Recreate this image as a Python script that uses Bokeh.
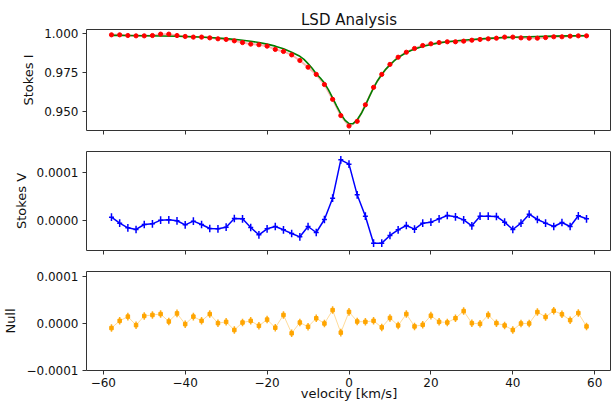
from bokeh.plotting import figure
from bokeh.layouts import column
from bokeh.models import Range1d, FixedTicker, CustomJSTickFormatter
from bokeh.embed import file_html
from bokeh.resources import INLINE

# ---------------- data ----------------
velocity = [-58, -56, -54, -52, -50, -48, -46, -44, -42, -40, -38, -36, -34, -32, -30,
            -28, -26, -24, -22, -20, -18, -16, -14, -12, -10, -8, -6, -4, -2, 0,
            2, 4, 6, 8, 10, 12, 14, 16, 18, 20, 22, 24, 26, 28, 30,
            32, 34, 36, 38, 40, 42, 44, 46, 48, 50, 52, 54, 56, 58]

stokes_I = [0.99895, 0.99895, 0.99853, 0.9983, 0.9983, 0.9985, 0.9994, 0.9994, 0.9985, 0.9979,
            0.9975, 0.9975, 0.9970, 0.9964, 0.9960, 0.9951, 0.9940, 0.9930, 0.9926, 0.9917,
            0.9896, 0.9883, 0.9861, 0.9825, 0.9782, 0.9736, 0.9671, 0.9576, 0.9472, 0.9405,
            0.9435, 0.9541, 0.9653, 0.9736, 0.9800, 0.9846, 0.9878, 0.9902, 0.9921, 0.9932,
            0.9940, 0.9945, 0.9945, 0.9949, 0.9955, 0.9960, 0.9964, 0.9968, 0.9975, 0.9975,
            0.9970, 0.9968, 0.9968, 0.9972, 0.9977, 0.9977, 0.9981, 0.9983, 0.9983]

fit_velocity = [-58, -54, -50, -46, -42, -38, -34, -30, -27, -24, -22, -20, -18, -16, -14,
                -12, -11, -10, -9, -8, -7, -6, -5, -4, -3, -2, -1, 0, 1, 2, 3, 4, 5, 6, 7,
                8, 9, 10, 11, 12, 14, 16, 18, 20, 22, 24, 27, 30, 34, 38, 42, 46, 50, 54, 58]
fit_I = [0.9986, 0.9985, 0.9984, 0.9982, 0.9980, 0.9977, 0.9972, 0.9965, 0.9958, 0.9948,
         0.9940, 0.9930, 0.9917, 0.9900, 0.9878, 0.9852, 0.9832, 0.9805, 0.9775, 0.9740,
         0.9713, 0.9680, 0.9637, 0.9586, 0.9533, 0.9483, 0.9443, 0.9421, 0.9420, 0.9445,
         0.9485, 0.9537, 0.9595, 0.9650, 0.9697, 0.9735, 0.9770, 0.9797, 0.9822, 0.9843,
         0.9876, 0.9898, 0.9915, 0.9928, 0.9938, 0.9945, 0.9953, 0.9960, 0.9967, 0.9972,
         0.9976, 0.9979, 0.9981, 0.9983, 0.9984]

stokes_V = [0.76, -0.49, -1.46, -1.81, -0.77, -0.63, 0.13, 0.20, 0.00, -0.84,
            -0.08, -0.77, -1.60, -1.67, -1.33, 0.48, 0.41, -1.40, -2.92, -1.67,
            -1.19, -1.88, -2.65, -3.34, -1.19, -2.44, 0.27, 4.71, 12.70, 11.80,
            5.41, 0.96, -4.66, -4.66, -3.06, -1.88, -0.98, -1.74, -0.49, -0.28,
            0.41, 1.10, 0.83, 0.20, -1.05, 0.96, 0.96, 0.90, -0.28, -1.81,
            -0.49, 1.38, 0.27, -0.49, -1.19, -0.35, -1.19, 1.04, 0.41]  # x 1e-5

null_N = [-1.04, 0.49, 1.39, -0.42, 1.53, 1.74, 1.94, 0.35, 2.08, -0.21,
          1.39, 0.49, 1.94, 0.00, 0.28, -1.46, 0.14, 0.49, -0.56, 0.76,
          -0.97, 1.74, -2.15, 0.14, -0.76, 1.04, -0.07, 2.78, -2.01, 2.40,
          0.35, 0.28, 0.49, -0.90, 1.11, -0.49, 1.94, -0.69, -0.35, 1.60,
          0.28, 0.14, 1.04, 2.57, 0.00, -0.14, 1.74, 0.00, -0.49, -1.46,
          -0.07, -0.07, 2.36, 1.32, 2.64, 1.88, 0.63, 2.15, -0.69]  # x 1e-5

scale = 1e-5
V_err = 0.8   # x 1e-5
N_err = 0.8   # x 1e-5

x_ticks = [-60, -40, -20, 0, 20, 40, 60]
I_ticks = [0.95, 0.975, 1.0]
V_ticks = [0.0, 0.0001]
N_ticks = [-0.0001, 0.0, 0.0001]

# ---------------- styling helpers ----------------
FONT = "DejaVu Sans"
AX = "#333333"
W = 611
XR = (-64.1, 64.1)


def fmt(digits):
    return CustomJSTickFormatter(code="""
        const s = Math.abs(tick).toFixed(%d);
        return (tick < -1e-12 ? '\\u2212' : '') + s;
    """ % digits)


def make(height, top, bottom, yr, yticks, ydig, ylabel):
    p = figure(width=W, height=height, output_backend="svg", toolbar_location=None,
               x_range=Range1d(*XR), y_range=Range1d(*yr),
               min_border_left=84, min_border_right=0,
               min_border_top=top, min_border_bottom=bottom)
    p.background_fill_color = "white"
    p.border_fill_color = "white"
    p.outline_line_color = AX
    p.outline_line_width = 1
    p.xgrid.visible = False
    p.ygrid.visible = False
    for ax in (p.xaxis[0], p.yaxis[0]):
        ax.axis_line_color = None
        ax.major_tick_out = 4
        ax.major_tick_in = 0
        ax.minor_tick_out = 0
        ax.minor_tick_in = 0
        ax.major_tick_line_color = AX
        ax.major_label_text_font = FONT
        ax.major_label_text_font_size = "12px"
        ax.major_label_text_color = "#111111"
        ax.axis_label_text_font = FONT
        ax.axis_label_text_font_size = "13px"
        ax.axis_label_text_font_style = "normal"
        ax.axis_label_text_color = "#111111"
    p.xaxis.ticker = FixedTicker(ticks=x_ticks)
    p.xaxis.formatter = fmt(0)
    p.yaxis.ticker = FixedTicker(ticks=yticks)
    p.yaxis.formatter = fmt(ydig)
    p.yaxis.axis_label = ylabel
    p.yaxis.major_label_standoff = 4
    p.yaxis.axis_label_standoff = 5
    return p


def hide_x_labels(p):
    # shared x axis: keep tick marks, draw no tick labels
    p.xaxis.major_label_text_color = None
    p.xaxis.major_label_text_alpha = 0
    p.xaxis.major_label_text_font_size = "1px"
    p.xaxis.major_label_standoff = 0


# ---- top panel: Stokes I ----
p1 = make(140, 29, 10, (0.93763, 1.00237), I_ticks, 3, "Stokes I")
hide_x_labels(p1)
p1.title.text = "LSD Analysis"
p1.title.align = "center"
p1.title.text_font = FONT
p1.title.text_font_size = "15px"
p1.title.text_font_style = "normal"
p1.title.text_color = "#111111"
p1.title.standoff = 2
p1.line(velocity, stokes_I, line_color="red", line_alpha=0.3, line_width=2)
p1.line(fit_velocity, fit_I, line_color="green", line_width=1.6)
p1.scatter(velocity, stokes_I, size=4.2, marker="circle", fill_color="red", line_color="red")

# ---- middle panel: Stokes V ----
p2 = make(121, 11, 11, (-0.619e-4, 1.444e-4), V_ticks, 4, "Stokes V")
hide_x_labels(p2)
Vv = [s * scale for s in stokes_V]
p2.segment(velocity, [(s - V_err) * scale for s in stokes_V],
           velocity, [(s + V_err) * scale for s in stokes_V],
           line_color="blue", line_width=1.5)
p2.line(velocity, Vv, line_color="blue", line_width=1.5)
p2.scatter(velocity, Vv, marker="dash", size=5, line_color="blue", line_width=1.5)

# ---- bottom panel: Null ----
p3 = make(142, 10, 31, (-1.006e-4, 1.098e-4), N_ticks, 4, "Null")
p3.xaxis.axis_label = "velocity [km/s]"
p3.xaxis.major_label_standoff = 3
p3.xaxis.axis_label_standoff = -4
Nv = [s * scale for s in null_N]
p3.line(velocity, Nv, line_color="orange", line_alpha=0.4, line_width=1)
p3.segment(velocity, [(s - N_err) * scale for s in null_N],
           velocity, [(s + N_err) * scale for s in null_N],
           line_color="orange", line_alpha=0.9, line_width=1.5)
p3.scatter(velocity, Nv, marker="square", size=3.5, fill_color="orange", line_color="orange")

layout = column(p1, p2, p3, spacing=0)
open("out.html", "w").write(file_html(layout, INLINE))
